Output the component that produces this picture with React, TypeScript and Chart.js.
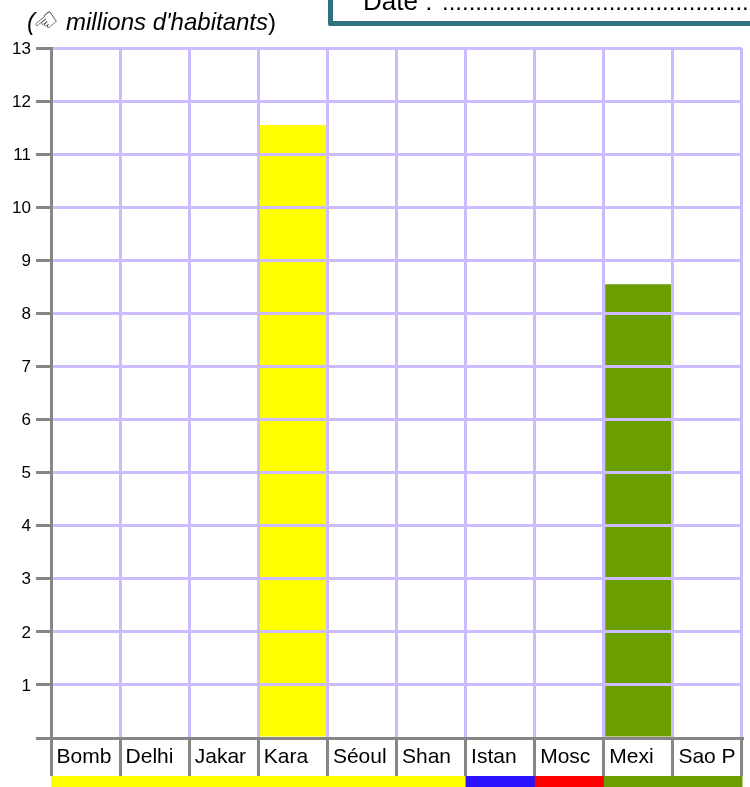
import React, { useEffect, useRef } from "react";
import { Chart, registerables } from "chart.js";

Chart.register(...registerables);

const cities = ["Bomb", "Delhi", "Jakar", "Kara", "Séoul", "Shan", "Istan", "Mosc", "Mexi", "Sao P"];
const population = [null, null, null, 11.55, null, null, null, null, 8.55, null];
const continentColors = ["#FFFF00", "#FFFF00", "#FFFF00", "#FFFF00", "#FFFF00", "#FFFF00", "#2B12FF", "#FF0000", "#6B9E00", "#6B9E00"];
const yMax = 13;

const FONT = '"Liberation Sans", Arial, sans-serif';
const PURPLE = "#CCBBFF";
const GRAY = "#868686";

const labelsAndStrip = {
  id: "labelsAndStrip",
  afterDraw(chart: any) {
    const { ctx, scales } = chart;
    const x = scales.x;
    const half = x.width / cities.length / 2;
    ctx.save();
    cities.forEach((c, i) => {
      const center = x.getPixelForValue(i);
      ctx.fillStyle = continentColors[i];
      ctx.fillRect(center - half, 776, half * 2 + 0.5, 11);
      ctx.fillStyle = "#000";
      ctx.font = `21px ${FONT}`;
      ctx.textAlign = "left";
      ctx.textBaseline = "alphabetic";
      ctx.fillText(c, center - half + 5.5, 763);
    });
    ctx.restore();
  },
};

export default function App() {
  const ref = useRef<HTMLCanvasElement>(null);
  useEffect(() => {
    const chart = new Chart(ref.current!, {
      type: "bar",
      data: {
        labels: cities,
        datasets: [
          {
            data: population as any,
            backgroundColor: continentColors,
            barPercentage: 1,
            categoryPercentage: 0.96,
          },
        ],
      },
      plugins: [labelsAndStrip],
      options: {
        animation: false,
        responsive: false,
        layout: { padding: { top: 48, right: 8, left: 0, bottom: 0 } },
        plugins: { legend: { display: false }, tooltip: { enabled: false } },
        scales: {
          x: {
            grid: {
              color: PURPLE,
              lineWidth: 3,
              tickColor: GRAY,
              tickWidth: 3,
              tickLength: 38,
              offset: true,
              z: 1,
            },
            border: { color: GRAY, width: 3, z: 2 },
            ticks: { display: false },
            afterFit(s: any) {
              s.height = 49;
            },
          },
          y: {
            min: 0,
            max: yMax,
            afterBuildTicks(s: any) {
              s.ticks = Array.from({ length: yMax + 1 }, (_, i) => ({ value: i }));
            },
            grid: {
              color: PURPLE,
              lineWidth: 3,
              tickColor: GRAY,
              tickWidth: 3,
              tickLength: 15,
              z: 1,
            },
            border: { color: GRAY, width: 3, z: 2 },
            ticks: {
              color: "#000",
              font: { family: FONT, size: 17 },
              padding: 5,
              labelOffset: 1,
              callback: (v: any) => (v === 0 ? "" : String(v)),
            },
            afterFit(s: any) {
              s.width = 51;
            },
          },
        },
      },
    } as any);
    return () => chart.destroy();
  }, []);

  return (
    <div style={{ position: "fixed", left: 0, top: 0, width: 750, height: 787, overflow: "hidden", background: "#fff", fontFamily: FONT }}>
      <canvas ref={ref} width={750} height={787} style={{ position: "absolute", left: 0, top: 0, display: "block" }} />
      <div style={{ position: "absolute", left: 27, top: 9, fontSize: 24, lineHeight: "26px", whiteSpace: "nowrap", color: "#000", fontStyle: "italic" }}>(</div>
      <div style={{ position: "absolute", left: 34, top: 7, fontFamily: '"DejaVu Sans"', fontSize: 27, lineHeight: "30px", whiteSpace: "nowrap", color: "#000", transform: "rotate(-40deg)" }}>☜</div>
      <div style={{ position: "absolute", left: 66, top: 9, fontSize: 24, lineHeight: "26px", whiteSpace: "nowrap", color: "#000" }}>
        <i>millions d'habitants</i>)
      </div>
      <div style={{ position: "absolute", left: 328, top: -44, width: 500, height: 60, border: "5px solid #2F727C", borderRadius: 2, boxSizing: "content-box" }} />
      <div style={{ position: "absolute", left: 363, top: -12, fontSize: 26, lineHeight: "26px", whiteSpace: "nowrap", color: "#000" }}>Date :</div>
      <div style={{ position: "absolute", left: 442, top: -11, fontSize: 24, lineHeight: "26px", whiteSpace: "nowrap", color: "#000" }}>
        .........................................................................
      </div>
    </div>
  );
}
